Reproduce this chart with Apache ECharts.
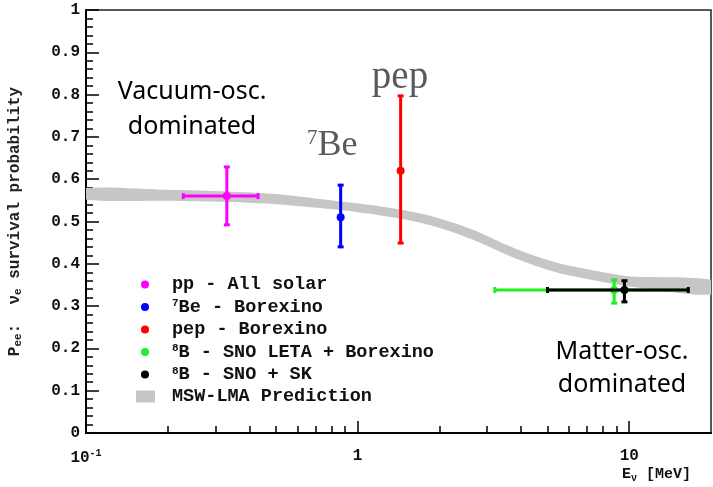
<!DOCTYPE html>
<html>
<head>
<meta charset="utf-8">
<title>Solar neutrino survival probability</title>
<script src="https://cdn.jsdelivr.net/npm/echarts@6/dist/echarts.min.js"></script>
<style>
  html, body { margin: 0; padding: 0; background: #fff; }
  #main { width: 713px; height: 487px; }
</style>
</head>
<body>
<div id="main"></div>
<script>
// MSW-LMA prediction band (E in MeV, lower / upper edge)
var bandE  = [0.1, 0.2, 0.33, 0.5, 0.87, 1.2, 1.5, 1.86, 2.3, 2.84, 3.52, 4.35, 5.38, 6.65, 8.2, 10.2, 20];
var bandLo = [0.552, 0.549, 0.546, 0.541, 0.527, 0.515, 0.505, 0.491, 0.472, 0.449, 0.422, 0.399, 0.380, 0.367, 0.356, 0.346, 0.327];
var bandHi = [0.579, 0.575, 0.571, 0.565, 0.547, 0.536, 0.526, 0.513, 0.495, 0.473, 0.445, 0.422, 0.403, 0.390, 0.379, 0.370, 0.362];

// measurements
var expNames = ['pp - All solar', '7Be - Borexino', 'pep - Borexino', '8B - SNO LETA + Borexino', '8B - SNO + SK'];
var expE     = [0.33, 0.866, 1.44, 8.8, 9.6];
var expP     = [0.56, 0.51, 0.62, 0.338, 0.338];
var expElo   = [0.228, 0.866, 1.44, 3.2, 5.0];
var expEhi   = [0.43, 0.866, 1.44, 16.5, 16.5];
var expPlo   = [0.492, 0.44, 0.449, 0.307, 0.31];
var expPhi   = [0.629, 0.586, 0.797, 0.362, 0.36];

var majorTicks = [0.1, 1, 10];
var minorTicks = [0.2, 0.3, 0.4, 0.5, 0.6, 0.7, 0.8, 0.9, 2, 3, 4, 5, 6, 7, 8, 9];

var colors = ['#ff00ff', '#0000ff', '#ff0000', '#22ee22', '#000000'];
var bandColor = '#c6c6c6';
var mono = '"Liberation Mono", "DejaVu Sans Mono", monospace';

function errorBar(params, api) {
  var x = api.value(0), y = api.value(1);
  var c = api.coord([x, y]);
  var color = api.visual('color');
  var st = { stroke: color, lineWidth: 3 };
  var cap = 3;
  var kids = [];
  var lo = api.coord([x, api.value(4)]), hi = api.coord([x, api.value(5)]);
  kids.push({ type: 'line', shape: { x1: c[0], y1: lo[1], x2: c[0], y2: hi[1] }, style: st });
  kids.push({ type: 'line', shape: { x1: c[0] - cap, y1: lo[1], x2: c[0] + cap, y2: lo[1] }, style: st });
  kids.push({ type: 'line', shape: { x1: c[0] - cap, y1: hi[1], x2: c[0] + cap, y2: hi[1] }, style: st });
  if (api.value(2) !== api.value(3)) {
    var l = api.coord([api.value(2), y]), r = api.coord([api.value(3), y]);
    kids.push({ type: 'line', shape: { x1: l[0], y1: c[1], x2: r[0], y2: c[1] }, style: st });
    kids.push({ type: 'line', shape: { x1: l[0], y1: c[1] - cap, x2: l[0], y2: c[1] + cap }, style: st });
    kids.push({ type: 'line', shape: { x1: r[0], y1: c[1] - cap, x2: r[0], y2: c[1] + cap }, style: st });
  }
  kids.push({ type: 'circle', shape: { cx: c[0], cy: c[1], r: 4 }, style: { fill: color } });
  return { type: 'group', children: kids };
}

function bandShape(params, api) {
  if (params.dataIndex !== 0) return null;
  var pts = [];
  for (var i = 0; i < bandE.length; i++) pts.push(api.coord([bandE[i], bandHi[i]]));
  for (var j = bandE.length - 1; j >= 0; j--) pts.push(api.coord([bandE[j], bandLo[j]]));
  return { type: 'polygon', shape: { points: pts, smooth: 0.25 }, style: { fill: bandColor } };
}

var series = [{
  name: 'MSW-LMA Prediction',
  type: 'custom',
  renderItem: bandShape,
  itemStyle: { color: bandColor },
  encode: { x: 0, y: [1, 2] },
  clip: true,
  silent: true,
  data: bandE.map(function (e, i) { return [e, bandLo[i], bandHi[i]]; })
}];
expNames.forEach(function (n, i) {
  series.push({
    name: n,
    type: 'custom',
    renderItem: errorBar,
    itemStyle: { color: colors[i] },
    encode: { x: [0, 2, 3], y: [1, 4, 5] },
    data: [[expE[i], expP[i], expElo[i], expEhi[i], expPlo[i], expPhi[i]]]
  });
});

function legendText(name) {
  if (/^\d/.test(name)) return '{sup|' + name.charAt(0) + '}{t|' + name.slice(1) + '}';
  return '{t|' + name + '}';
}
var legendRich = {
  t: { fontFamily: mono, fontWeight: 'bold', fontSize: 18.5, lineHeight: 18, color: '#111' },
  sup: { fontFamily: mono, fontWeight: 'bold', fontSize: 11, lineHeight: 18, verticalAlign: 'top', color: '#111' }
};

var myChart = echarts.init(document.getElementById('main'));
var option = {
  animation: false,
  backgroundColor: '#fff',
  grid: {
    left: 86, right: 2, top: 10, bottom: 54,
    outerBoundsMode: 'none',
    show: true, borderColor: '#222', borderWidth: 1.5, backgroundColor: 'transparent'
  },
  xAxis: [{
    type: 'log',
    logBase: 10,
    min: 0.1,
    max: 20,
    axisLine: { show: true, lineStyle: { color: '#000', width: 2 } },
    axisTick: { show: true, inside: true, length: 12, customValues: majorTicks, lineStyle: { color: '#000', width: 1.5 } },
    axisLabel: {
      customValues: majorTicks,
      margin: 15,
      formatter: function (v) { return v < 0.5 ? '{b|10}{s|-1}' : '{b|' + v + '}'; },
      rich: {
        b: { fontFamily: mono, fontWeight: 'bold', fontSize: 16, color: '#111' },
        s: { fontFamily: mono, fontWeight: 'bold', fontSize: 10, color: '#111', padding: [0, 0, 9, 0] }
      }
    },
    splitLine: { show: false }
  }, {
    type: 'log',
    logBase: 10,
    min: 0.1,
    max: 20,
    position: 'bottom',
    axisLine: { show: false },
    axisTick: { show: true, inside: true, length: 7, customValues: minorTicks, lineStyle: { color: '#000', width: 1.5 } },
    axisLabel: { show: false },
    splitLine: { show: false }
  }],
  yAxis: {
    type: 'value',
    min: 0,
    max: 1,
    interval: 0.1,
    name: '{i|P}{sub|ee}{i|:  ν}{sub|e}{i| survival probability}',
    nameLocation: 'middle',
    nameGap: 62,
    nameTextStyle: {
      rich: {
        i: { fontFamily: mono, fontWeight: 'bold', fontSize: 16, color: '#222' },
        sub: { fontFamily: mono, fontWeight: 'bold', fontSize: 11, color: '#222', padding: [8, 0, 0, 0] }
      }
    },
    axisLine: { show: true, lineStyle: { color: '#000', width: 2 } },
    axisTick: { show: true, inside: true, length: 13, lineStyle: { color: '#000', width: 1.5 } },
    minorTick: { show: true, splitNumber: 5, length: 7, lineStyle: { color: '#000', width: 1.5 } },
    axisLabel: { margin: 6, fontFamily: mono, fontWeight: 'bold', fontSize: 16, color: '#111' },
    splitLine: { show: false }
  },
  legend: [{
    orient: 'vertical',
    left: 136,
    top: 270,
    itemWidth: 8,
    itemHeight: 8,
    itemGap: 3.5,
    icon: 'circle',
    data: expNames,
    formatter: legendText,
    textStyle: { padding: [0, 0, 0, 18], rich: legendRich }
  }, {
    orient: 'vertical',
    left: 131,
    top: 382,
    itemWidth: 19,
    itemHeight: 12,
    icon: 'rect',
    data: ['MSW-LMA Prediction'],
    formatter: legendText,
    textStyle: { padding: [0, 0, 0, 12], rich: legendRich }
  }],
  graphic: [
    { type: 'text', x: 192, y: 92, style: { text: 'Vacuum-osc.', font: '25px "Noto Sans"', fill: '#000', align: 'center', verticalAlign: 'middle', textAlign: 'center', textVerticalAlign: 'middle' } },
    { type: 'text', x: 192, y: 127, style: { text: 'dominated', font: '25px "Noto Sans"', fill: '#000', align: 'center', verticalAlign: 'middle', textAlign: 'center', textVerticalAlign: 'middle' } },
    { type: 'text', x: 622, y: 352, style: { text: 'Matter-osc.', font: '25px "Noto Sans"', fill: '#000', align: 'center', verticalAlign: 'middle', textAlign: 'center', textVerticalAlign: 'middle' } },
    { type: 'text', x: 622, y: 385, style: { text: 'dominated', font: '25px "Noto Sans"', fill: '#000', align: 'center', verticalAlign: 'middle', textAlign: 'center', textVerticalAlign: 'middle' } },
    { type: 'text', x: 400, y: 78, style: { text: 'pep', font: '39px "Liberation Serif"', fill: '#5a5a5a', align: 'center', verticalAlign: 'middle', textAlign: 'center', textVerticalAlign: 'middle' } },
    { type: 'text', x: 307, y: 146, style: {
      text: '{s|7}{b|Be}', align: 'left', verticalAlign: 'middle', textAlign: 'left', textVerticalAlign: 'middle',
      rich: {
        s: { font: '21px "Liberation Serif"', fill: '#5a5a5a', verticalAlign: 'top', lineHeight: 36 },
        b: { font: '36px "Liberation Serif"', fill: '#5a5a5a', lineHeight: 36 }
      }
    } },
    { type: 'text', x: 622, y: 474, style: {
      text: '{e|E}{v|ν}{e| [MeV]}', align: 'left', verticalAlign: 'middle', textAlign: 'left', textVerticalAlign: 'middle',
      rich: {
        e: { font: 'bold 15px ' + mono, fill: '#111' },
        v: { font: 'bold 10px ' + mono, fill: '#111', padding: [8, 0, 0, 0] }
      }
    } }
  ],
  series: series
};
myChart.setOption(option);
</script>
</body>
</html>
